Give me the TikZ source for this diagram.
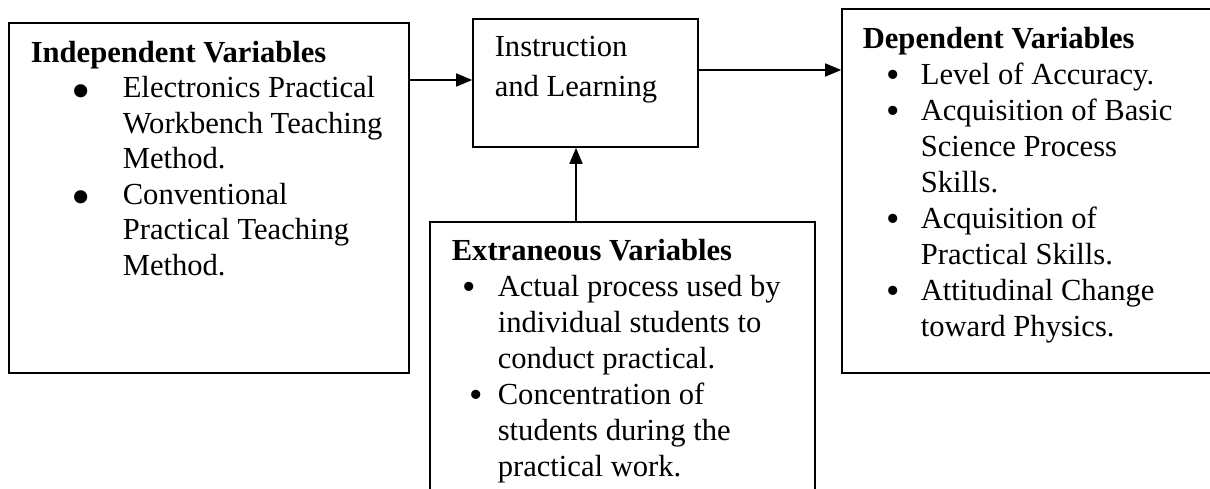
\documentclass[tikz,border=0pt]{standalone}
\usepackage{fontspec}
\setmainfont{Liberation Serif}
\usetikzlibrary{arrows.meta}
\tikzset{>={Triangle[length=16pt,width=13pt]}}
\newcommand{\bigbul}{\raisebox{-12pt}{\scalebox{1.8}{\textbullet}}}
\newcommand{\midbul}{\raisebox{-3pt}{\scalebox{1.25}{\textbullet}}}

\begin{document}
\begin{tikzpicture}[x=1pt, y=-1pt, line width=1.6pt,
    box/.style={draw, inner sep=0pt},
    txt/.style={align=left, inner sep=0pt, anchor=base west, font=\fontsize{30.6}{35.5}\selectfont}]
    \useasboundingbox (0,0) rectangle (1210,489);
    % boxes
    \node[box, minimum width=400, minimum height=350] (indep) at (209,198) {};
    \node[box, minimum width=225, minimum height=128] (instr) at (585.5,83) {};
    \node[box, minimum width=400, minimum height=364] (dep) at (1042,191) {};
    \node[box, minimum width=385, minimum height=300] (extr) at (622.5,372) {};
    % texts (placed by the baseline of their last line)
    \node[txt] (indeptxt) at (30,275) {\textbf{Independent Variables}\\
        \hspace*{41pt}\makebox[51pt][l]{\bigbul}Electronics Practical\\
        \hspace*{92pt}Workbench Teaching\\
        \hspace*{92pt}Method.\\
        \hspace*{41pt}\makebox[51pt][l]{\bigbul}Conventional\\
        \hspace*{92pt}Practical Teaching\\
        \hspace*{92pt}Method.};
    \node[txt, font=\fontsize{30.6}{40}\selectfont] (instrtxt) at (494,97) {Instruction\\and Learning};
    \node[txt, font=\fontsize{30.6}{36}\selectfont] (deptxt) at (862,336) {\textbf{Dependent Variables}\\
        \hspace*{24pt}\makebox[34pt][l]{\midbul}Level of Accuracy.\\
        \hspace*{24pt}\makebox[34pt][l]{\midbul}Acquisition of Basic\\
        \hspace*{58pt}Science Process\\
        \hspace*{58pt}Skills.\\
        \hspace*{24pt}\makebox[34pt][l]{\midbul}Acquisition of\\
        \hspace*{58pt}Practical Skills.\\
        \hspace*{24pt}\makebox[34pt][l]{\midbul}Attitudinal Change\\
        \hspace*{58pt}toward Physics.};
    \node[txt, font=\fontsize{30.6}{36}\selectfont] (extrtxt) at (451,476) {\textbf{Extraneous Variables}\\
        \hspace*{11pt}\makebox[35pt][l]{\midbul}Actual process used by\\
        \hspace*{46pt}individual students to\\
        \hspace*{46pt}conduct practical.\\
        \hspace*{18pt}\makebox[28pt][l]{\midbul}Concentration of\\
        \hspace*{46pt}students during the\\
        \hspace*{46pt}practical work.};
    % arrows
    \coordinate (inl) at ([yshift=3pt]instr.west);
    \coordinate (inr) at ([yshift=13pt]instr.east);
    \coordinate (inb) at ([xshift=-9.5pt]instr.south);
    \draw[->] (indep.east |- inl) -- (inl);
    \draw[->] (inr) -- (inr -| dep.west);
    \draw[->] (inb |- extr.north) -- (inb);
\end{tikzpicture}
\end{document}
